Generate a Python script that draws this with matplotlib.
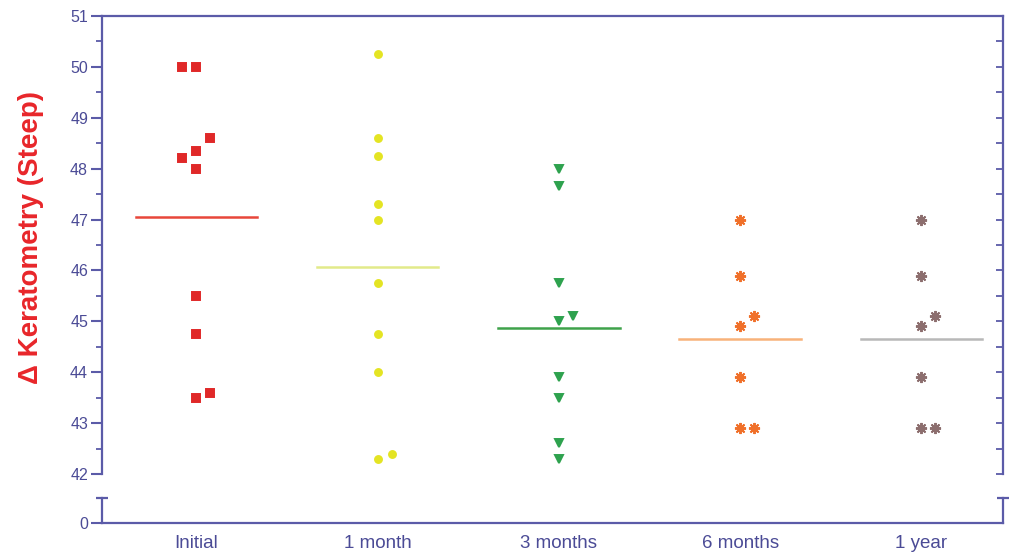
import numpy as np
import matplotlib
matplotlib.use('Agg')
import matplotlib.pyplot as plt

plt.rcParams['font.family'] = ['Liberation Sans', 'DejaVu Sans']

# data
groups = ['Initial', '1 month', '3 months', '6 months', '1 year']
# each value with a small horizontal offset (-1, 0, 1) used in the dot plot
initial = [50.0, 50.0, 48.6, 48.35, 48.2, 48.0, 45.5, 44.75, 43.5, 43.6]
initial_off = [-1, 0, 1, 0, -1, 0, 0, 0, 0, 1]
month1 = [50.25, 48.6, 48.25, 47.3, 47.0, 45.75, 44.75, 44.0, 42.3, 42.4]
month1_off = [0, 0, 0, 0, 0, 0, 0, 0, 0, 1]
month3 = [48.0, 47.65, 45.75, 45.0, 45.1, 43.9, 43.5, 42.6, 42.3]
month3_off = [0, 0, 0, 0, 1, 0, 0, 0, 0]
month6 = [47.0, 45.9, 44.9, 45.1, 43.9, 42.9, 42.9]
month6_off = [0, 0, 0, 1, 0, 0, 1]
year1 = [47.0, 45.9, 44.9, 45.1, 43.9, 42.9, 42.9]
year1_off = [0, 0, 0, 1, 0, 0, 1]

series = [initial, month1, month3, month6, year1]
offsets = [initial_off, month1_off, month3_off, month6_off, year1_off]
markers = ['s', 'o', 'v', (8, 2, 0), (8, 2, 0)]
msizes = [6, 5, 6.3, 8, 8]
colors = ['#e02828', '#e4e423', '#2ea24e', '#f0702a', '#8c6e6e']
mean_colors = ['#e8463a', '#e2ea8a', '#3fa24a', '#f8b27a', '#b8b8b8']

axis_col = '#5b5ba8'
text_col = '#4b4b96'

W, H = 1011, 560
fig = plt.figure(figsize=(W / 100, H / 100), dpi=100)

x0, x1 = 102, 1003
ax = fig.add_axes([x0 / W, 1 - 474 / H, (x1 - x0) / W, (474 - 16) / H])
axb = fig.add_axes([x0 / W, 1 - 523 / H, (x1 - x0) / W, (523 - 498) / H])

xlim = (-0.52, 4.45)
step = 0.077
half = 0.335

for i, (vals, offs) in enumerate(zip(series, offsets)):
    xs = i + np.array(offs) * step
    ax.plot(xs, vals, linestyle='none', marker=markers[i], markersize=msizes[i],
            color=colors[i], markeredgecolor=colors[i], markeredgewidth=1.4)
    m = np.mean(vals)
    ax.plot([i - half, i + half], [m, m], color=mean_colors[i], lw=1.8)

# upper part of the axis
ax.set_xlim(*xlim)
ax.set_ylim(42, 51)
ax.spines['bottom'].set_visible(False)
for s in ['left', 'right', 'top']:
    ax.spines[s].set_color(axis_col)
    ax.spines[s].set_linewidth(1.6)
ax.set_xticks([])
ax.set_yticks(np.arange(42, 52, 1))
ax.set_yticks(np.arange(42.5, 51, 1), minor=True)
ax.tick_params(axis='y', which='major', direction='out', length=8, width=1.5,
               color=axis_col, labelcolor=text_col, labelsize=11.5, pad=2)
ax.tick_params(axis='y', which='minor', direction='out', length=4, width=1.3,
               color=axis_col)

axr = ax.twinx()
axr.set_ylim(42, 51)
axr.set_yticks(np.arange(42, 51.01, 0.5))
axr.tick_params(axis='y', direction='in', length=5, width=1.3,
                color=axis_col, labelright=False)
for s in axr.spines.values():
    s.set_visible(False)

# lower part of the axis (0)
axb.set_xlim(*xlim)
axb.set_ylim(0, 1)
axb.spines['top'].set_visible(False)
for s in ['left', 'right', 'bottom']:
    axb.spines[s].set_color(axis_col)
    axb.spines[s].set_linewidth(1.6)
axb.set_yticks([0])
axb.tick_params(axis='y', direction='out', length=8, width=1.5,
                color=axis_col, labelcolor=text_col, labelsize=11.5, pad=2)
axb.set_xticks(range(len(groups)))
axb.set_xticklabels(groups)
axb.tick_params(axis='x', length=0, labelcolor=text_col, labelsize=13.5, pad=9)
for xc in [0, 1]:
    axb.plot([xc], [1], marker='_', markersize=8, markeredgewidth=1.6,
             color=axis_col, transform=axb.transAxes, clip_on=False)

fig.text(31 / W, 1 - 238 / H, '\u0394 Keratometry (Steep)', rotation=90,
         color='#e8262a', fontsize=20, fontweight='bold', ha='center', va='center')

fig.savefig('out.png', dpi=100)
